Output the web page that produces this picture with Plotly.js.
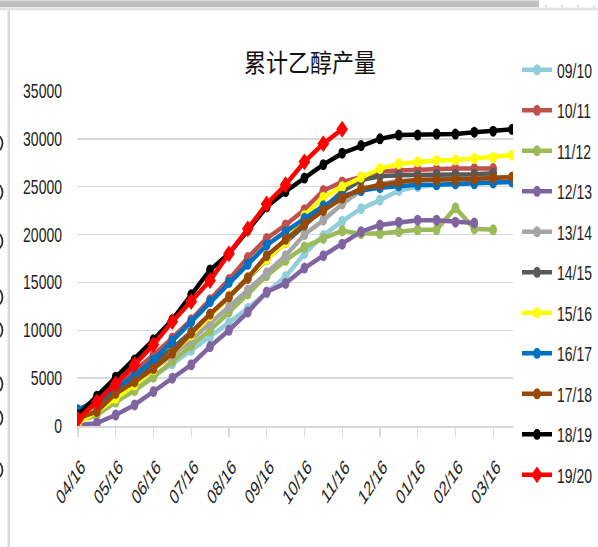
<!DOCTYPE html>
<html>
<head>
<meta charset="utf-8">
<script src="https://cdn.plot.ly/plotly-3.0.1.min.js"></script>
<style>
  html, body { margin: 0; padding: 0; background: #ffffff; }
  #chart { width: 598px; height: 547px; }
</style>
</head>
<body>
<div id="chart"></div>
<script>
// Half-monthly observation dates of the marketing year (April → March)
const dates = ["04/16","05/01","05/16","06/01","06/16","07/01","07/16","08/01",
               "08/16","09/01","09/16","10/01","10/16","11/01","11/16","12/01",
               "12/16","01/01","01/16","02/01","02/16","03/01","03/16","04/01"];

// Labelled ticks (every other date)
const tickLabels = ["04/16","05/16","06/16","07/16","08/16","09/16",
                    "10/16","11/16","12/16","01/16","02/16","03/16"];

// Cumulative ethanol output per season
const s0910 = [800, 1800, 2900, 4000, 5200, 6500, 7900, 9300, 10800, 12300, 13900, 15600,
               18000, 19900, 21400, 22700, 23600, 24600, 25000, 25200, 25300, 25400, 25400, 25500];
const s1011 = [1200, 2600, 4200, 5800, 7400, 9200, 11100, 13200, 15300, 17600, 19600, 21000,
               22600, 24600, 25500, 26000, 26600, 26700, 26800, 26800, 26900, 26900, 26900];
const s1112 = [450, 1150, 2500, 3700, 5100, 6800, 8400, 10000, 11900, 13800, 15700, 17300,
               18700, 19600, 20400, 20100, 20100, 20300, 20500, 20500, 22800, 20600, 20500];
const s1213 = [100, 300, 1150, 2200, 3600, 5000, 6400, 8300, 10000, 11900, 14000, 14900,
               16500, 17800, 19000, 20300, 21000, 21300, 21500, 21500, 21300, 21200];
const s1314 = [900, 2000, 3200, 4500, 5900, 7400, 9000, 10700, 12400, 14200, 16000, 17800,
               20000, 21500, 23200, 24600, 25300, 25600, 25700, 25800, 25900, 25900, 26000, 26000];
const s1415 = [1100, 2300, 3600, 5000, 6500, 8100, 9800, 11600, 13500, 15400, 17400, 19200,
               21000, 22800, 24500, 25700, 26100, 26200, 26200, 26300, 26300, 26300, 26400];
const s1516 = [300, 1500, 2900, 4300, 5900, 7600, 9500, 11500, 13600, 15500, 17400, 19200,
               22000, 23900, 25000, 26000, 26900, 27400, 27600, 27750, 27800, 27950, 28050, 28300];
const s1617 = [1700, 2700, 3900, 5300, 6900, 8900, 10900, 13000, 15000, 16900, 18900, 20300,
               21700, 23000, 24000, 24600, 24900, 25100, 25200, 25200, 25300, 25300, 25400, 25500];
const s1718 = [800, 1500, 3400, 4600, 6000, 7600, 9700, 11700, 13500, 15500, 17800, 19500,
               21100, 22500, 23800, 24800, 25200, 25500, 25700, 25700, 25700, 25800, 25900, 26000];
const s1819 = [1150, 3100, 5100, 6900, 9000, 11100, 13700, 16300, 18000, 20500, 22900, 24500,
               25900, 27300, 28500, 29300, 30000, 30400, 30400, 30500, 30500, 30700, 30800, 31000];
const s1920 = [700, 2500, 4400, 6400, 8500, 10900, 13000, 15200, 18000, 20600, 23200, 25200,
               27600, 29500, 31000];

const seasons = ["09/10","10/11","11/12","12/13","13/14","14/15","15/16","16/17","17/18","18/19","19/20"];
const values  = [s0910, s1011, s1112, s1213, s1314, s1415, s1516, s1617, s1718, s1819, s1920];
const colors  = ["#92cddc","#c0504d","#9bbb59","#8064a2","#a5a5a5","#595959",
                 "#ffff00","#0070c0","#984807","#000000","#ff0000"];

const textFont = "'Liberation Sans', Arial, sans-serif";

const traces = seasons.map((name, k) => ({
  type: "scatter",
  mode: "lines+markers",
  name: name,
  legendgroup: name,
  x: dates.slice(0, values[k].length),
  y: values[k],
  line: { color: colors[k], width: 4.5 },
  marker: { color: colors[k], size: k === 10 ? 13 : 11, symbol: k === 10 ? "diamond" : "circle" },
  hoverinfo: "x+y+name"
}));

// plot area in pixels: x 77..513, y 90.7..426
const L = 77, R = 513, T = 90.7, B = 426;
const px = v => (v - L) / (R - L);
const py = v => (B - v) / (B - T);

const frame = [
  { type: "rect", xref: "paper", yref: "paper", x0: px(0), x1: px(539), y0: py(0), y1: py(7),
    fillcolor: "#bfbfbf", line: { width: 0 }, layer: "above" },
  { type: "rect", xref: "paper", yref: "paper", x0: px(0), x1: px(598), y0: py(7.5), y1: py(10),
    fillcolor: "#e2e2e2", line: { width: 0 }, layer: "above" },
  { type: "rect", xref: "paper", yref: "paper", x0: px(7.5), x1: px(10), y0: py(10), y1: py(547),
    fillcolor: "#d9d9d9", line: { width: 0 }, layer: "above" }
].concat([545, 561, 577, 593].map(d => ({
  type: "rect", xref: "paper", yref: "paper", x0: px(d), x1: px(d + 2), y0: py(5), y1: py(7),
  fillcolor: "#d0d0d0", line: { width: 0 }, layer: "above"
}))).concat([143, 192, 241, 297, 330, 384, 418, 470].map(yy => ({
  // clipped glyph remnants of the neighbouring panel at the left edge
  type: "path", xref: "paper", yref: "paper",
  path: `M ${px(0)},${py(yy - 7)} Q ${px(5)},${py(yy)} ${px(0)},${py(yy + 7)}`,
  line: { color: "#333333", width: 1.8 }, layer: "above"
})));

const layout = {
  width: 598, height: 547,
  margin: { l: L, r: 598 - R, t: T, b: 547 - B, pad: 0, autoexpand: false },
  paper_bgcolor: "#ffffff",
  plot_bgcolor: "#ffffff",
  showlegend: true,
  title: {
    text: "累计乙醇产量",
    xref: "paper", x: px(310), xanchor: "center",
    yref: "container", y: 1 - 63 / 547, yanchor: "middle",
    font: { family: "'Noto Sans CJK SC', sans-serif", size: 25, color: "#111111" }
  },
  xaxis: {
    type: "category",
    categoryorder: "array",
    categoryarray: dates,
    range: [-0.05, 23.05],
    tickmode: "array",
    tickvals: tickLabels,
    ticktext: tickLabels,
    tickangle: -45,
    ticks: "outside",
    ticklen: 9,
    tickwidth: 1.3,
    tickcolor: "#d9d9d9",
    ticklabelstandoff: 10,
    showline: true,
    linecolor: "#d9d9d9",
    linewidth: 1.5,
    showgrid: false,
    zeroline: false,
    tickfont: { family: textFont, size: 21, color: "#222222" }
  },
  yaxis: {
    range: [0, 35000],
    dtick: 5000,
    tickformat: "d",
    showgrid: true,
    gridcolor: "#d9d9d9",
    gridwidth: 1.3,
    showline: false,
    zeroline: false,
    ticks: "",
    ticklabelstandoff: 14,
    tickfont: { family: textFont, size: 20, color: "#222222" }
  },
  legend: {
    x: px(517), xanchor: "left",
    y: py(50), yanchor: "top",
    traceorder: "grouped",
    tracegroupgap: 11.5,
    maxheight: 547,
    font: { family: textFont, size: 20, color: "#222222" },
    bgcolor: "rgba(0,0,0,0)",
    itemwidth: 30
  },
  shapes: frame
};

// Narrow the rendered glyphs and markers horizontally about their anchor points
function squeezeText(selector, s, anchor) {
  document.querySelectorAll(selector).forEach(el => {
    const r = el.getBoundingClientRect();
    const sx = anchor === "end" ? r.right : anchor === "start" ? r.left : (r.left + r.right) / 2;
    const svg = el.ownerSVGElement;
    const pt = svg.createSVGPoint();
    pt.x = sx; pt.y = r.top;
    const p = pt.matrixTransform(el.parentNode.getScreenCTM().inverse());
    const old = el.getAttribute("transform") || "";
    el.setAttribute("transform", `translate(${p.x},0) scale(${s},1) translate(${-p.x},0) ${old}`);
  });
}
function squeezeMarkers(selector, s) {
  document.querySelectorAll(selector).forEach(el => {
    const old = el.getAttribute("transform") || "";
    el.setAttribute("transform", `${old} scale(${s},1)`);
  });
}

Plotly.newPlot("chart", traces, layout, { displayModeBar: false, staticPlot: true }).then(() => {
  squeezeText(".ytick text", 0.7, "end");
  squeezeText(".xtick text", 0.66, "end");
  squeezeText(".legendtext", 0.7, "start");
  squeezeText(".gtitle", 0.88, "middle");
  squeezeMarkers(".scatterlayer .point", 0.7);
  squeezeMarkers(".legendpoints .scatterpts", 0.7);
});
</script>
</body>
</html>
